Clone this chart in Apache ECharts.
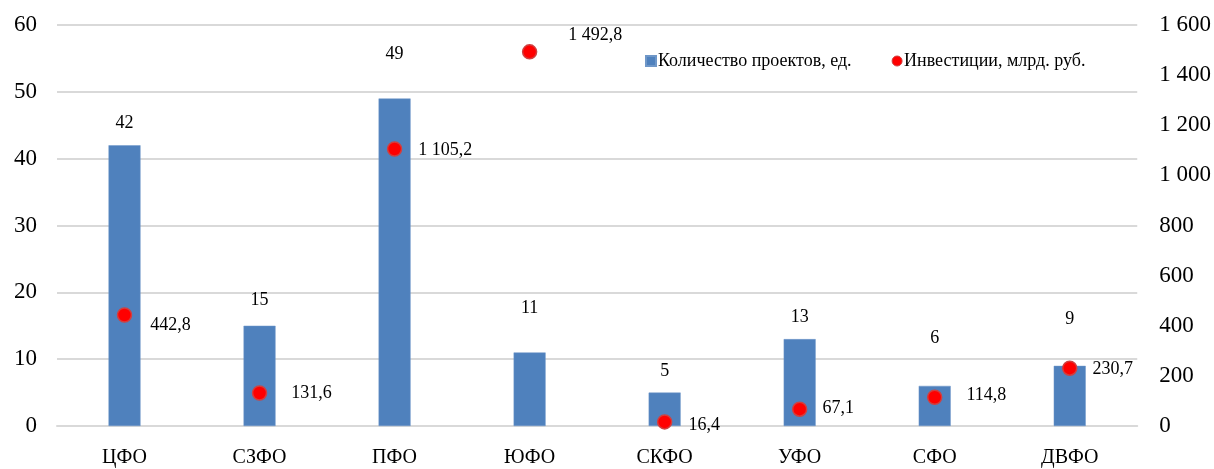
<!DOCTYPE html>
<html>
<head>
<meta charset="utf-8">
<script src="https://cdn.jsdelivr.net/npm/echarts@6/dist/echarts.min.js"></script>
<style>html,body{margin:0;padding:0;background:#fff}#c{width:1214px;height:469px}</style>
</head>
<body>
<div id="c"></div>
<script>
const categories = ['ЦФО', 'СЗФО', 'ПФО', 'ЮФО', 'СКФО', 'УФО', 'СФО', 'ДВФО'];
const projects = [42, 15, 49, 11, 5, 13, 6, 9];
const investments = [442.8, 131.6, 1105.2, 1492.8, 16.4, 67.1, 114.8, 230.7];
const leftTicks = [0, 10, 20, 30, 40, 50, 60];
const rightTicks = [0, 200, 400, 600, 800, 1000, 1200, 1400, 1600];
const seriesNames = ['Количество проектов, ед.', 'Инвестиции, млрд. руб.'];

// label placement (styling only)
const barLabelDist = [13, 16, 35, 35, 12, 13, 39, 38];
const dotLabelOffset = [[18, 10], [24, 0], [16, 1], [31, -17], [16, 3], [15, -1], [24, -2], [15, 1]];

const FONT = '"Liberation Serif", "Times New Roman", serif';
function fmtNum(v, dec) {
  let s = dec ? v.toFixed(dec) : String(Math.round(v));
  let [i, d] = s.split('.');
  i = i.replace(/\B(?=(\d{3})+(?!\d))/g, ' ');
  return d ? i + ',' + d : i;
}

const chart = echarts.init(document.getElementById('c'), null, {renderer: 'canvas'});
chart.setOption({
  animation: false,
  backgroundColor: '#fff',
  textStyle: {fontFamily: FONT},
  grid: {left: 57, right: 76, top: 25, bottom: 43, containLabel: false},
  legend: {
    top: 47, left: 640,
    itemGap: 40, itemWidth: 10, itemHeight: 10,
    textStyle: {fontFamily: FONT, fontSize: 18, color: '#000', padding: [0, 0, 0, -3]},
    data: [
      {name: seriesNames[0], icon: 'rect'},
      {name: seriesNames[1], icon: 'circle', itemStyle: {color: '#ff0000', borderColor: '#d04040', borderWidth: 1}}
    ]
  },
  xAxis: {
    type: 'category', data: categories,
    axisLine: {show: true, lineStyle: {color: '#d9d9d9', width: 2}},
    axisTick: {show: false},
    axisLabel: {fontFamily: FONT, fontSize: 20, color: '#000', margin: 22}
  },
  yAxis: [
    {
      type: 'value', min: leftTicks[0], max: leftTicks[leftTicks.length - 1], interval: 10,
      axisLine: {show: false}, axisTick: {show: false},
      splitLine: {lineStyle: {color: '#d9d9d9', width: 2}},
      axisLabel: {fontFamily: FONT, fontSize: 23, color: '#000', margin: 20}
    },
    {
      type: 'value', min: rightTicks[0], max: rightTicks[rightTicks.length - 1], interval: 200,
      axisLine: {show: false}, axisTick: {show: false}, splitLine: {show: false},
      axisLabel: {fontFamily: FONT, fontSize: 23, color: '#000', margin: 22, formatter: v => fmtNum(v, 0)}
    }
  ],
  series: [
    {
      name: seriesNames[0], type: 'bar', yAxisIndex: 0, barWidth: 32,
      itemStyle: {color: '#4f81bd', borderColor: '#6f97c8', borderWidth: 0.5},
      data: projects.map((v, i) => ({value: v, label: {distance: barLabelDist[i]}})),
      label: {show: true, position: 'top', fontFamily: FONT, fontSize: 18, color: '#000'},
      z: 2
    },
    {
      name: seriesNames[1], type: 'scatter', yAxisIndex: 1, symbol: 'circle', symbolSize: 14,
      itemStyle: {color: '#ff0000', borderColor: '#d04040', borderWidth: 1.5, opacity: 1},
      data: investments.map((v, i) => ({value: v, label: {offset: dotLabelOffset[i]}})),
      label: {show: true, position: 'right', distance: 0, fontFamily: FONT, fontSize: 18, color: '#000',
        formatter: p => fmtNum(p.value, 1)},
      z: 3
    }
  ]
});
</script>
</body>
</html>
